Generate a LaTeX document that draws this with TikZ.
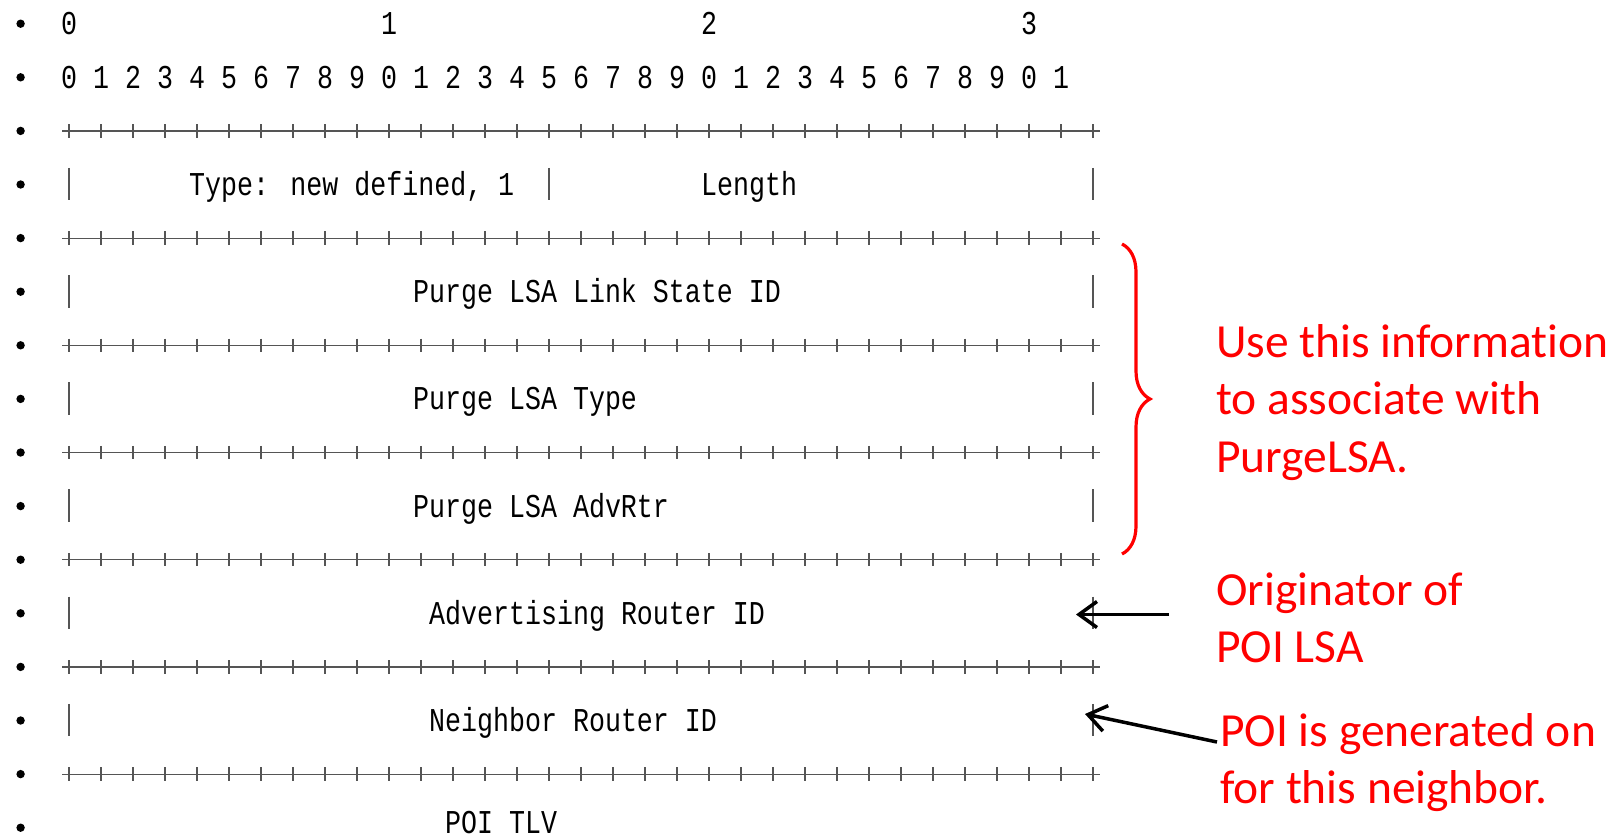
\documentclass[tikz,border=0pt]{standalone}
\usepackage{fontspec}
\usepackage{tikz}
\usetikzlibrary{calc,arrows.meta,decorations.pathreplacing}
\newfontfamily\fieldfont[FakeStretch=0.8]{Liberation Mono}
\newfontfamily\notefont[Ligatures=NoCommon]{Carlito}
\definecolor{rulegray}{HTML}{555555}
\definecolor{notered}{HTML}{FF0000}

\begin{document}
\begin{tikzpicture}[x=1pt,y=-1pt,
    bit/.style={inner sep=0pt,anchor=base,font=\fieldfont\fontsize{33.3}{40}\selectfont},
    field/.style={inner sep=0pt,anchor=base west,font=\fieldfont\fontsize{33.3}{40}\selectfont},
    note/.style={inner sep=0pt,anchor=base west,align=left,text=notered,font=\notefont\fontsize{47.5}{57.7}\selectfont},
    rule/.style={rulegray,line width=1.2pt},
    pointer/.style={line width=3.5pt,-{Straight Barb[length=18pt,width=26pt]}},
    redbrace/.style={notered,line width=3.2pt,decorate,decoration={brace,amplitude=28pt}}]
  \useasboundingbox (0,0) rectangle (1617,838);
  \foreach \k in {0,...,15}
    \fill (20.6,23.7+53.6*\k) circle[radius=4.2];
  \foreach \d in {0,1,2,3}
    \node[bit] (top\d) at (69+320*\d,34.9) {\d};
  \foreach \i in {0,...,31}{
    \pgfmathtruncatemacro{\b}{mod(\i,10)}
    \node[bit] (bit\i) at (69+32*\i,88.3) {\b};
  }
  \foreach \k in {2,4,...,14}{
    \draw[rule] (62,23.7+53.6*\k) -- (1100,23.7+53.6*\k);
    \foreach \i in {0,...,32}
      \draw[rule] (69+32*\i,17+53.6*\k) -- (69+32*\i,30.4+53.6*\k);
  }
  \foreach \k in {3,5,...,13}{
    \draw[rule] (69,7+53.6*\k) -- (69,39.5+53.6*\k);
    \draw[rule] (1093,7+53.6*\k) -- (1093,39.5+53.6*\k);
  }
  \draw[rule] (549,167.8) -- (549,200.3);
  \node[field] (type) at (189,195.5) {Type: new defined, 1};
  \node[field] (length) at (701,195.5) {Length};
  \node[field] (lsid) at (413,302.7) {Purge LSA Link State ID};
  \node[field] (lstype) at (413,409.9) {Purge LSA Type};
  \node[field] (advrtr) at (413,517.1) {Purge LSA AdvRtr};
  \node[field] (advid) at (429,624.3) {Advertising Router ID};
  \node[field] (nbrid) at (429,731.5) {Neighbor Router ID};
  \node[field] (tlv) at (445,833) {POI TLV};
  \draw[redbrace] (1122,244) -- (1122,554);
  \node[note] (purge) at (1216,472.4) {Use this information\\to associate with\\PurgeLSA.};
  \node[note] (orig) at (1216,662.7) {Originator of\\POI LSA};
  \node[note] (poi) at (1220,803.7) {POI is generated on\\for this neighbor.};
  \coordinate (advtip) at (1076,614.5);
  \coordinate (nbrtip) at (1085,714);
  \draw[pointer] ($(orig.base west)+(-47,-48.2)$) -- (advtip);
  \draw[pointer] ($(poi.base west)+(-3,-61.7)$) -- (nbrtip);
\end{tikzpicture}
\end{document}
